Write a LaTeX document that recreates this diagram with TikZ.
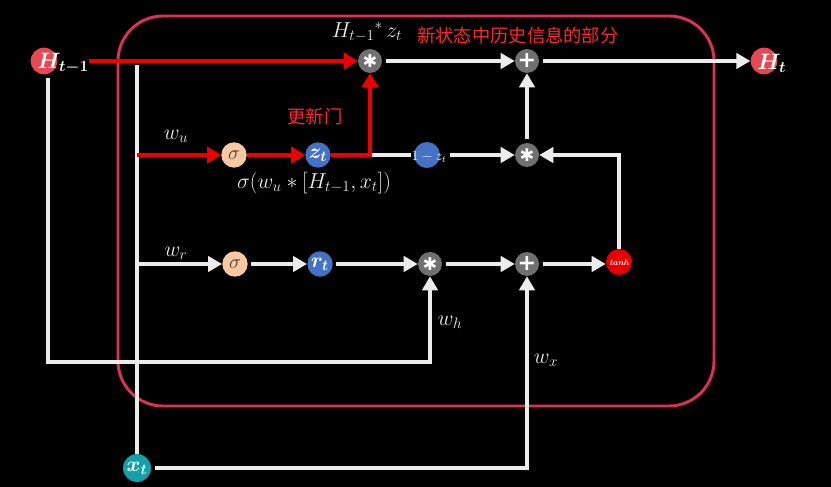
\documentclass[tikz,border=0pt]{standalone}
\usepackage{fix-cm}
\usepackage{amsmath}
\usepackage{bm}
\usepackage{fontspec}
\newfontfamily\cjk{Noto Sans CJK SC}
\newfontfamily\dejavu{DejaVu Sans}
\usetikzlibrary{arrows.meta}

\definecolor{wcol}{RGB}{236,236,236}
\definecolor{rcol}{RGB}{238,0,0}
\definecolor{boxcol}{RGB}{222,48,86}
\definecolor{opcol}{RGB}{112,112,112}
\definecolor{sigcol}{RGB}{250,200,160}
\definecolor{gatecol}{RGB}{68,114,196}
\definecolor{hcol}{RGB}{232,72,82}
\definecolor{xcol}{RGB}{20,160,170}
\definecolor{tanhcol}{RGB}{232,0,0}
\definecolor{cjkcol}{RGB}{255,40,40}

\newcommand\opmul{{\dejavu\fontsize{15}{15}\selectfont ✱}}
\newcommand\opadd{{\dejavu\bfseries\fontsize{19}{19}\selectfont +}}

\tikzset{
  whiteline/.style={draw=wcol, line width=3.4pt},
  whitearrow/.style={whiteline, -{Triangle[length=12pt,width=13pt]}, shorten <=3pt},
  redline/.style={draw=rcol, line width=4.2pt},
  redarrow/.style={redline, -{Triangle[length=12pt,width=14pt]}},
  ball/.style={circle, inner sep=0pt, minimum size=0.76cm, text=white},
  op/.style={ball, fill=opcol, minimum size=0.72cm},
  sig/.style={ball, fill=sigcol, text={black!75}, font=\fontsize{17}{20}\selectfont},
  gate/.style={ball, fill=gatecol, font=\fontsize{18}{21}\selectfont},
  lab/.style={text=wcol, inner sep=1pt, font=\fontsize{18.5}{22}\selectfont},
  cjklab/.style={text=cjkcol, inner sep=1pt, font=\cjk\fontsize{15.6}{18}\selectfont}
}

\begin{document}
\begin{tikzpicture}[x=0.03cm,y=-0.03cm]
\fill[black] (0,0) rectangle (831,487);
\draw[boxcol, line width=2.5pt, rounded corners=1.35cm] (118,16) rectangle (714,406);

% operators
\node[op] (mulH) at (370,61) {\opmul};
\node[op] (addH) at (527,61) {\opadd};
\node[op] (mulZ) at (527,155) {\opmul};
\node[op] (mulR) at (430,264) {\opmul};
\node[op] (addX) at (527,264) {\opadd};

% gates
\node[sig] (sigU) at (234,155) {$\sigma$};
\node[gate] (zt) at (318,155) {$\bm{z_t}$};
\node[ball, fill=gatecol, minimum size=0.78cm] (omz) at (427,155) {};
\node[text=white, inner sep=0pt, font=\fontsize{12}{14}\selectfont] (omztxt) at (429,157) {$1-z_t$};
\node[sig] (sigR) at (235,264) {$\sigma$};
\node[gate] (rt) at (320,264) {$\bm{r_t}$};
\node[ball, fill=tanhcol, minimum size=0.78cm, font=\fontsize{7.5}{8}\selectfont\bfseries\itshape] (tanh) at (619,262) {tanh};

% in and out
\node[ball, fill=hcol, minimum size=0.8cm] (Hp) at (44,61) {};
\node[anchor=west, text=white, inner sep=0pt, font=\fontsize{19}{22}\selectfont] (Hptxt) at ([xshift=-0.21cm,yshift=-0.07cm]Hp.center) {$\bm{H_{t-1}}$};
\node[ball, fill=hcol, minimum size=0.8cm] (Ht) at (764,61) {};
\node[anchor=west, text=white, inner sep=0pt, font=\fontsize{19}{22}\selectfont] (Httxt) at ([xshift=-0.21cm,yshift=-0.07cm]Ht.center) {$\bm{H_t}$};
\node[ball, fill=xcol, minimum size=0.84cm, font=\fontsize{18}{21}\selectfont] (xt) at (137,468) {$\bm{x_t}$};

\coordinate (xtop) at (137,65);
\coordinate (ubr) at (137,155);
\coordinate (rbr) at (137,264);
\coordinate (zsp) at (mulH |- zt);
\coordinate (hbot) at (48,362);

% white paths
\draw[whiteline] (xtop) -- (xt.north);
\draw[whitearrow] (mulH.east) -- (addH.west);
\draw[whitearrow] (addH.east) -- (Ht.west);
\draw[whiteline] (zsp) -- (omztxt.west |- zsp);
\draw[whitearrow] (omztxt.east |- omz) -- (mulZ.west);
\draw[whitearrow] (mulZ.north) -- (addH.south);
\draw[whitearrow, shorten <=0pt] (tanh.north) |- (mulZ.east);
\draw[whitearrow, shorten <=0pt] (rbr) -- (sigR.west);
\draw[whitearrow] (sigR.east) -- (rt.west);
\draw[whitearrow] (rt.east) -- (mulR.west);
\draw[whitearrow] (mulR.east) -- (addX.west);
\draw[whitearrow] (addX.east) -- (tanh.west |- addX);
\draw[whitearrow] (hbot |- Hp.south) -- (hbot) -| (mulR.south);
\draw[whitearrow] (xt.east) -| (addX.south);

% red paths
\draw[redarrow] (Hptxt.east |- Hp.center) -- (mulH.west);
\draw[redarrow] (ubr) -- (sigU.west);
\draw[redarrow] (sigU.east) -- (zt.west);
\draw[redarrow] (zt.east) -- (zsp) -- (mulH.south);

% labels
\node[lab] (lwu) at (176,136) {$w_u$};
\node[lab] (lwr) at (176,253) {$w_r$};
\node[lab] (lwh) at (450,322) {$w_h$};
\node[lab] (lwx) at (546,360) {$w_x$};
\node[lab] (lsig) at (314,183) {$\sigma(w_u \ast [H_{t-1},x_t])$};
\node[lab] (lhz) at (367,32) {$H_{t-1}{}^{\ast}\, z_t$};
\node[cjklab, anchor=west] (lnew) at (416,35) {新状态中历史信息的部分};
\node[cjklab] (lupd) at (315,117) {更新门};
\end{tikzpicture}
\end{document}
